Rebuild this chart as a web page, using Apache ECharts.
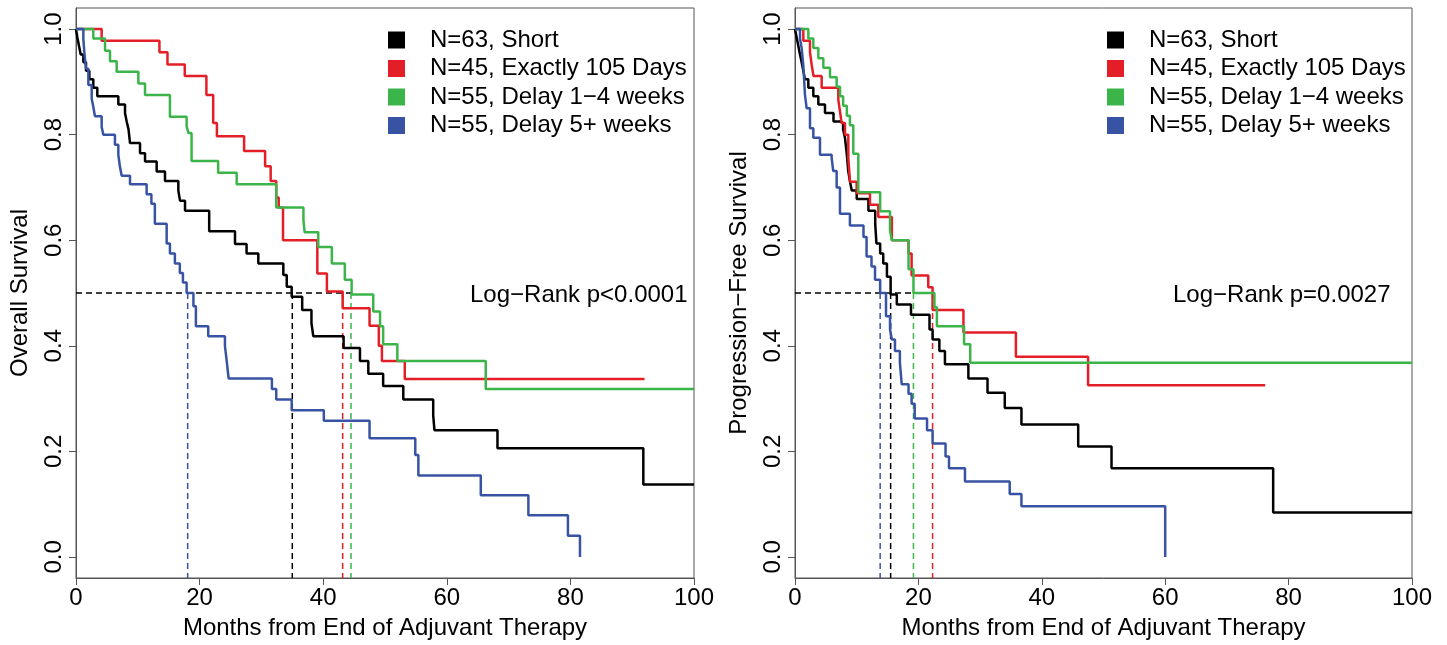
<!DOCTYPE html>
<html>
<head>
<meta charset="utf-8">
<script src="https://cdn.jsdelivr.net/npm/echarts@6/dist/echarts.min.js"></script>
<style>
  html, body { margin: 0; padding: 0; background: #fff; }
  #chart { width: 1447px; height: 645px; }
</style>
</head>
<body>
<div id="chart"></div>
<script>
// groups, same order in both panels
const groupNames = ['N=63, Short', 'N=45, Exactly 105 Days', 'N=55, Delay 1−4 weeks', 'N=55, Delay 5+ weeks'];
const groupColors = ['#000000', '#E41E26', '#3BB54A', '#3853A4'];

const xTicks = [0, 20, 40, 60, 80, 100];
const yTicks = [0, 0.2, 0.4, 0.6, 0.8, 1.0];

// overall survival, [month, survival]
const osShort = [[0,1],[0.22,0.984],[0.49,0.968],[0.76,0.952],[1.19,0.937],[1.62,0.921],[2.16,0.905],[2.8,0.889],[3.45,0.873],
  [6.85,0.857],[7.93,0.841],[8.2,0.825],[8.5,0.81],[8.74,0.784],[10.36,0.765],[11.17,0.749],[13.05,0.73],[14.4,0.712],
  [16.56,0.694],[16.83,0.675],[17.64,0.656],[21.55,0.617],[25.73,0.593],[27.6,0.575],[29.5,0.556],[33.55,0.534],[34.1,0.512],
  [34.9,0.493],[36.6,0.468],[38.1,0.443],[38.4,0.418],[43.3,0.396],[45.95,0.371],[47.3,0.347],[49.7,0.324],[52.96,0.298],
  [57.8,0.268],[58.0,0.24],[68.2,0.206],[91.8,0.137],[100,0.137]];
const osExact = [[0,1],[4.15,0.978],[13.5,0.956],[14.8,0.933],[17.6,0.911],[21.1,0.875],[22.2,0.822],[22.8,0.797],[27.2,0.769],
  [30.6,0.74],[31.5,0.712],[32.4,0.681],[32.8,0.662],[33.5,0.6],[39.05,0.537],[40.6,0.503],[43.15,0.471],[47.5,0.438],
  [49.0,0.4],[49.5,0.371],[53.2,0.337],[92,0.337]];
const osDelay14 = [[0,1],[2.8,0.982],[4.7,0.959],[5.5,0.939],[6.58,0.919],[10.09,0.897],[11.17,0.875],[15.2,0.834],[17.9,0.816],
  [18.2,0.803],[18.7,0.75],[23.0,0.728],[26.0,0.706],[32.4,0.662],[36.8,0.638],[37.0,0.615],[39.2,0.587],[41.4,0.556],
  [43.5,0.525],[44.6,0.497],[48.1,0.465],[49.2,0.437],[49.7,0.403],[52.0,0.371],[66.3,0.318],[100,0.318]];
const osDelay5 = [[0,1],[1.19,0.981],[1.35,0.956],[1.62,0.925],[2.0,0.894],[2.54,0.868],[2.8,0.853],[3.07,0.835],[4.15,0.815],
  [4.42,0.8],[6.3,0.781],[6.85,0.762],[7.1,0.74],[7.39,0.722],[8.74,0.706],[11.43,0.687],[12.2,0.669],[12.76,0.631],
  [14.67,0.594],[15.2,0.575],[16.0,0.556],[16.8,0.538],[17.3,0.52],[17.9,0.5],[19.0,0.475],[19.4,0.437],[21.4,0.418],
  [24.1,0.4],[24.4,0.37],[24.7,0.338],[31.7,0.318],[32.4,0.298],[34.9,0.278],[40.1,0.258],[47.5,0.225],[54.9,0.193],
  [55.4,0.154],[65.5,0.117],[73.2,0.079],[79.6,0.04],[81.55,0]];
const osMedians = [35.0, 43.15, 44.5, 18.07];

// progression-free survival, [month, survival]
const pfsShort = [[0,1],[0.27,0.984],[0.54,0.968],[0.81,0.952],[1.08,0.937],[1.35,0.921],[1.6,0.905],[2.16,0.889],[2.97,0.873],
  [3.78,0.857],[4.86,0.841],[6.24,0.825],[7.29,0.822],[7.8,0.81],[8.1,0.794],[8.4,0.762],[8.64,0.73],[8.9,0.712],[9.2,0.694],
  [10.0,0.678],[11.9,0.656],[13.0,0.631],[13.2,0.594],[13.8,0.575],[14.3,0.556],[14.9,0.531],[15.5,0.497],[16.5,0.478],
  [18.8,0.459],[21.8,0.431],[22.3,0.412],[23.4,0.39],[24.3,0.365],[28.1,0.338],[31.2,0.311],[34.0,0.282],[36.7,0.251],
  [45.9,0.209],[51.3,0.168],[77.5,0.084],[100,0.084]];
const pfsExact = [[0,1],[1.35,0.978],[2.43,0.956],[2.7,0.933],[3.0,0.911],[4.32,0.889],[7.02,0.866],[7.29,0.844],[7.56,0.822],
  [8.1,0.8],[8.64,0.756],[8.91,0.711],[9.99,0.689],[12.15,0.667],[13.5,0.644],[15.7,0.6],[18.4,0.575],[18.9,0.533],
  [21.6,0.511],[22.3,0.468],[27.3,0.425],[35.8,0.379],[47.5,0.325],[76.2,0.325]];
const pfsDelay14 = [[0,1],[2.16,0.982],[2.97,0.964],[3.78,0.945],[4.59,0.927],[5.67,0.909],[6.75,0.891],[7.3,0.873],[7.8,0.855],
  [8.4,0.836],[8.9,0.818],[9.45,0.764],[10.26,0.691],[13.8,0.655],[15.4,0.618],[15.7,0.6],[18.4,0.545],[19.2,0.5],
  [22.6,0.473],[23.0,0.437],[27.4,0.403],[28.4,0.368],[100,0.368]];
const pfsDelay5 = [[0,1],[0.81,0.982],[1.08,0.964],[1.35,0.931],[1.62,0.875],[1.89,0.85],[2.43,0.812],[2.97,0.794],[4.05,0.762],
  [5.94,0.756],[6.2,0.731],[6.75,0.7],[7.29,0.65],[8.9,0.628],[11.1,0.606],[11.6,0.569],[12.4,0.55],[12.97,0.525],[13.8,0.5],
  [14.75,0.456],[15.4,0.431],[15.7,0.412],[16.2,0.39],[17.0,0.368],[17.3,0.327],[18.4,0.309],[18.9,0.29],[19.4,0.262],
  [21.4,0.24],[22.3,0.215],[24.4,0.19],[24.96,0.168],[27.55,0.143],[34.8,0.119],[36.7,0.096],[60.0,0]];
const pfsMedians = [15.5, 22.3, 19.2, 13.8];

const FONT = '"Liberation Sans", Arial, Helvetica, sans-serif';
const myChart = echarts.init(document.getElementById('chart'));

function xAxisFor(idx) {
  return {
    gridIndex: idx, type: 'value', min: 0, max: 100, interval: 20,
    name: 'Months from End of Adjuvant Therapy', nameLocation: 'middle', nameGap: 38,
    nameTextStyle: { fontSize: 24, color: '#000', fontFamily: FONT },
    axisLine: { show: true, onZero: false, lineStyle: { color: '#555', width: 1 } },
    axisTick: { show: true, inside: false, length: 7, lineStyle: { color: '#555' } },
    axisLabel: { fontSize: 24, color: '#000', fontFamily: FONT, margin: 8 },
    splitLine: { show: false }
  };
}
function yAxisFor(idx, title) {
  return {
    gridIndex: idx, type: 'value', min: -0.04, max: 1.04,
    name: title, nameLocation: 'middle', nameGap: 44,
    nameTextStyle: { fontSize: 24, color: '#000', fontFamily: FONT },
    axisLine: { show: true, onZero: false, lineStyle: { color: '#555', width: 1 } },
    axisTick: { show: true, inside: false, length: 7, customValues: yTicks, lineStyle: { color: '#555' } },
    axisLabel: { fontSize: 24, color: '#000', fontFamily: FONT, rotate: 90, margin: 10,
      customValues: yTicks, formatter: v => v.toFixed(1) },
    splitLine: { show: false }
  };
}

function kmSeries(idx, curves) {
  return curves.map((data, i) => ({
    name: groupNames[i], type: 'line', step: 'end', xAxisIndex: idx, yAxisIndex: idx,
    data: data, showSymbol: false, symbol: 'none',
    lineStyle: { color: groupColors[i], width: 2.5 }, itemStyle: { color: groupColors[i] }, z: 3 + i
  }));
}
function medianSeries(idx, medians) {
  const list = [{
    name: 'median' + idx, type: 'line', xAxisIndex: idx, yAxisIndex: idx, showSymbol: false, symbol: 'none',
    data: [[0, 0.5], [Math.max(...medians), 0.5]],
    lineStyle: { color: '#000', width: 1.5, type: [6, 4] }, z: 2
  }];
  medians.forEach((m, i) => {
    list.push({
      name: 'median' + idx + '_' + i, type: 'line', xAxisIndex: idx, yAxisIndex: idx, showSymbol: false, symbol: 'none',
      data: [[m, 0.5], [m, -0.04]],
      lineStyle: { color: groupColors[i], width: 1.5, type: [6, 4] }, z: 2
    });
  });
  return list;
}
function legendFor(left) {
  return {
    data: groupNames, orient: 'vertical', left: left, top: 23, icon: 'rect',
    itemWidth: 17, itemHeight: 17, itemGap: 4.5, selectedMode: false,
    textStyle: { fontSize: 24, color: '#000', fontFamily: FONT, padding: [0, 0, 0, 20] }
  };
}

const option = {
  animation: false,
  backgroundColor: '#fff',
  grid: [
    { left: 76, top: 8, width: 618, height: 576, show: true, borderColor: '#555', borderWidth: 1 },
    { left: 795, top: 8, width: 617, height: 576, show: true, borderColor: '#555', borderWidth: 1 }
  ],
  xAxis: [xAxisFor(0), xAxisFor(1)],
  yAxis: [yAxisFor(0, 'Overall Survival'), yAxisFor(1, 'Progression−Free Survival')],
  legend: [legendFor(383), legendFor(1102)],
  graphic: [
    { type: 'text', left: 470, top: 283, style: { text: 'Log−Rank p<0.0001', fontSize: 24, fontFamily: FONT, fill: '#000' } },
    { type: 'text', left: 1173, top: 283, style: { text: 'Log−Rank p=0.0027', fontSize: 24, fontFamily: FONT, fill: '#000' } }
  ],
  series: [
    ...medianSeries(0, osMedians),
    ...kmSeries(0, [osShort, osExact, osDelay14, osDelay5]),
    ...medianSeries(1, pfsMedians),
    ...kmSeries(1, [pfsShort, pfsExact, pfsDelay14, pfsDelay5])
  ]
};

myChart.setOption(option);
window.addEventListener('resize', function () {
  myChart.resize();
});
</script>
</body>
</html>
